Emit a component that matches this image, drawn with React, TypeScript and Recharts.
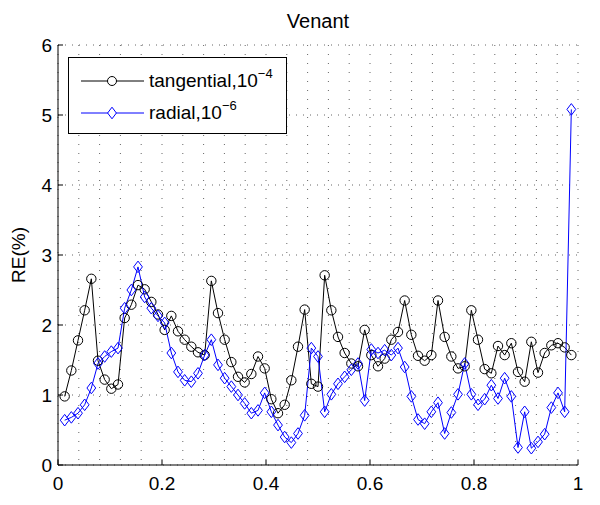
import React from "react"
import { LineChart, Line, XAxis, YAxis, CartesianGrid, Legend } from "recharts"

// RE(%), one value per sample
const TANGENTIAL = [
  0.98, 1.35, 1.78, 2.21, 2.66, 1.49, 1.22, 1.09, 1.15, 2.1,
  2.29, 2.57, 2.51, 2.33, 2.15, 1.93, 2.13, 1.91, 1.79, 1.69,
  1.61, 1.57, 2.63, 2.17, 1.79, 1.47, 1.26, 1.18, 1.3, 1.55,
  1.38, 0.94, 0.74, 0.86, 1.21, 1.69, 2.22, 1.16, 1.12, 2.71,
  2.21, 1.83, 1.6, 1.45, 1.41, 1.93, 1.57, 1.41, 1.52, 1.79,
  1.9, 2.35, 1.86, 1.56, 1.49, 1.57, 2.35, 1.83, 1.55, 1.38,
  1.41, 2.21, 1.79, 1.37, 1.31, 1.7, 1.57, 1.74, 1.33, 1.19,
  1.76, 1.32, 1.6, 1.71, 1.74, 1.68, 1.57,
]

const RADIAL = [
  0.64, 0.68, 0.74, 0.86, 1.1, 1.45, 1.55, 1.62, 1.67, 2.24,
  2.5, 2.83, 2.4, 2.24, 2.13, 2.03, 1.6, 1.33, 1.21, 1.19,
  1.31, 1.57, 1.79, 1.43, 1.24, 1.12, 1.0, 0.88, 0.74, 0.78,
  1.03, 0.76, 0.57, 0.4, 0.32, 0.45, 0.71, 1.67, 1.55, 0.76,
  1.01, 1.16, 1.26, 1.36, 1.45, 0.92, 1.65, 1.6, 1.64, 1.57,
  1.67, 1.4, 0.98, 0.65, 0.59, 0.76, 0.89, 0.45, 0.75, 1.01,
  1.45, 1.01, 0.86, 0.94, 1.14, 0.95, 1.24, 0.98, 0.25, 0.76,
  0.24, 0.33, 0.44, 0.82, 1.03, 0.76, 5.08,
]

// samples sit evenly inside (0, 1)
const SAMPLE_X = TANGENTIAL.map((_, i) => (i + 1) / (TANGENTIAL.length + 1))

const X_GRID = [
  0, 0.04, 0.08, 0.12, 0.16, 0.2, 0.24, 0.28, 0.32, 0.36, 0.4, 0.44, 0.48,
  0.52, 0.56, 0.6, 0.64, 0.68, 0.72, 0.76, 0.8, 0.84, 0.88, 0.92, 0.96, 1,
]
const X_MAJOR = [0, 0.2, 0.4, 0.6, 0.8, 1]
const Y_TICKS = [0, 1, 2, 3, 4, 5, 6]

const data = SAMPLE_X.map((x, i) => ({
  x,
  tangential: TANGENTIAL[i],
  radial: RADIAL[i],
}))

const FONT = { fontFamily: "'Liberation Sans', Arial, sans-serif", fontSize: 19, fill: "#000" }
const BLUE = "#0000ff"

const isMajor = (v: number) => X_MAJOR.some((m) => Math.abs(m - v) < 1e-6)

function BottomTick({ x, y, payload }: any) {
  if (!isMajor(payload.value)) return <g />
  const axisY = y - 12
  return (
    <g>
      <line x1={x} x2={x} y1={axisY} y2={axisY - 5} stroke="#000" />
      <text x={x} y={y} dy="0.71em" textAnchor="middle" style={FONT}>
        {String(payload.value)}
      </text>
    </g>
  )
}

function TopTick({ x, y, payload }: any) {
  if (!isMajor(payload.value)) return <g />
  return <line x1={x} x2={x} y1={y} y2={y + 5} stroke="#000" />
}

function LeftTick({ x, y, payload }: any) {
  const axisX = x + 6
  return (
    <g>
      <line x1={axisX} x2={axisX + 5} y1={y} y2={y} stroke="#000" />
      <text x={x} y={y} dy="0.355em" textAnchor="end" style={FONT}>
        {payload.value}
      </text>
    </g>
  )
}

function RightTick({ x, y }: any) {
  return <line x1={x} x2={x - 5} y1={y} y2={y} stroke="#000" />
}

function Diamond({ cx, cy, index }: any) {
  if (cx == null || cy == null) return <g key={index} />
  return (
    <path
      key={index}
      d={`M${cx},${cy - 5.8}L${cx + 4.4},${cy}L${cx},${cy + 5.8}L${cx - 4.4},${cy}Z`}
      fill="none"
      stroke={BLUE}
      strokeWidth={1}
    />
  )
}

function LegendBox() {
  const rows = [
    { label: "tangential,10", exp: "\u22124", color: "#000", marker: "circle", top: 24 },
    { label: "radial,10", exp: "\u22126", color: BLUE, marker: "diamond", top: 56 },
  ]
  return (
    <div
      style={{
        position: "relative",
        width: 219,
        height: 77,
        boxSizing: "border-box",
        border: "1px solid #000",
        background: "#fff",
        fontFamily: "'Liberation Sans', Arial, sans-serif",
      }}
    >
      {rows.map((r) => (
        <div key={r.label}>
          <svg
            width={70}
            height={16}
            style={{ position: "absolute", left: 10, top: r.top - 9, overflow: "visible" }}
          >
            <line x1={2} x2={65} y1={8} y2={8} stroke={r.color} />
            {r.marker === "circle" ? (
              <circle cx={33} cy={8} r={4.5} fill="#fff" stroke={r.color} />
            ) : (
              <path d="M33,2.2L37.4,8L33,13.8L28.6,8Z" fill="#fff" stroke={r.color} />
            )}
          </svg>
          <span
            style={{
              position: "absolute",
              left: 80,
              top: r.top - 12,
              fontSize: 19,
              lineHeight: "22px",
              whiteSpace: "nowrap",
              color: "#000",
            }}
          >
            {r.label}
            <span style={{ fontSize: 13, position: "relative", top: -9 }}>{r.exp}</span>
          </span>
        </div>
      ))}
    </div>
  )
}

export default function App() {
  return (
    <div style={{ position: "absolute", left: 0, top: 0, width: 600, height: 505, background: "#fff" }}>
      <LineChart width={600} height={505} data={data} margin={{ top: 45, right: 22, bottom: 0, left: 0 }}>
        <CartesianGrid
          xAxisId="bottom"
          yAxisId="left"
          horizontal={false}
          stroke="#666"
          strokeDasharray="1 8"
        />
        <CartesianGrid
          xAxisId="bottom"
          yAxisId="left"
          vertical={false}
          stroke="#666"
          strokeDasharray="1 6"
        />
        <XAxis
          xAxisId="bottom"
          dataKey="x"
          type="number"
          domain={[0, 1]}
          ticks={X_GRID}
          interval={0}
          height={40}
          tickSize={0}
          tickMargin={12}
          tick={<BottomTick />}
          axisLine={{ stroke: "#000" }}
          allowDataOverflow
        />
        <XAxis
          xAxisId="top"
          orientation="top"
          dataKey="x"
          type="number"
          domain={[0, 1]}
          ticks={X_MAJOR}
          interval={0}
          height={0}
          tickSize={0}
          tickMargin={0}
          tick={<TopTick />}
          axisLine={{ stroke: "#000" }}
          allowDataOverflow
        />
        <YAxis
          yAxisId="left"
          type="number"
          domain={[0, 6]}
          ticks={Y_TICKS}
          interval={0}
          width={58}
          tickSize={0}
          tickMargin={6}
          tick={<LeftTick />}
          axisLine={{ stroke: "#000" }}
          allowDataOverflow
        />
        <YAxis
          yAxisId="right"
          orientation="right"
          type="number"
          domain={[0, 6]}
          ticks={Y_TICKS}
          interval={0}
          width={0}
          tickSize={0}
          tickMargin={0}
          tick={<RightTick />}
          axisLine={{ stroke: "#000" }}
          allowDataOverflow
        />
        <Line
          xAxisId="bottom"
          yAxisId="left"
          type="linear"
          dataKey="tangential"
          name="tangential"
          stroke="#000"
          strokeWidth={1}
          dot={{ r: 4.7, stroke: "#000", strokeWidth: 1, fill: "none" }}
          activeDot={false}
          isAnimationActive={false}
        />
        <Line
          xAxisId="bottom"
          yAxisId="left"
          type="linear"
          dataKey="radial"
          name="radial"
          stroke={BLUE}
          strokeWidth={1}
          dot={Diamond}
          activeDot={false}
          isAnimationActive={false}
        />
        <Legend
          verticalAlign="middle"
          align="center"
          content={<LegendBox />}
          wrapperStyle={{ left: 68, top: 57, width: 219, height: 77 }}
        />
        <text x={318} y={28} textAnchor="middle" style={{ ...FONT, fontSize: 20 }}>
          Venant
        </text>
        <text
          x={25}
          y={255}
          textAnchor="middle"
          transform="rotate(-90 25 255)"
          style={FONT}
        >
          RE(%)
        </text>
      </LineChart>
    </div>
  )
}
